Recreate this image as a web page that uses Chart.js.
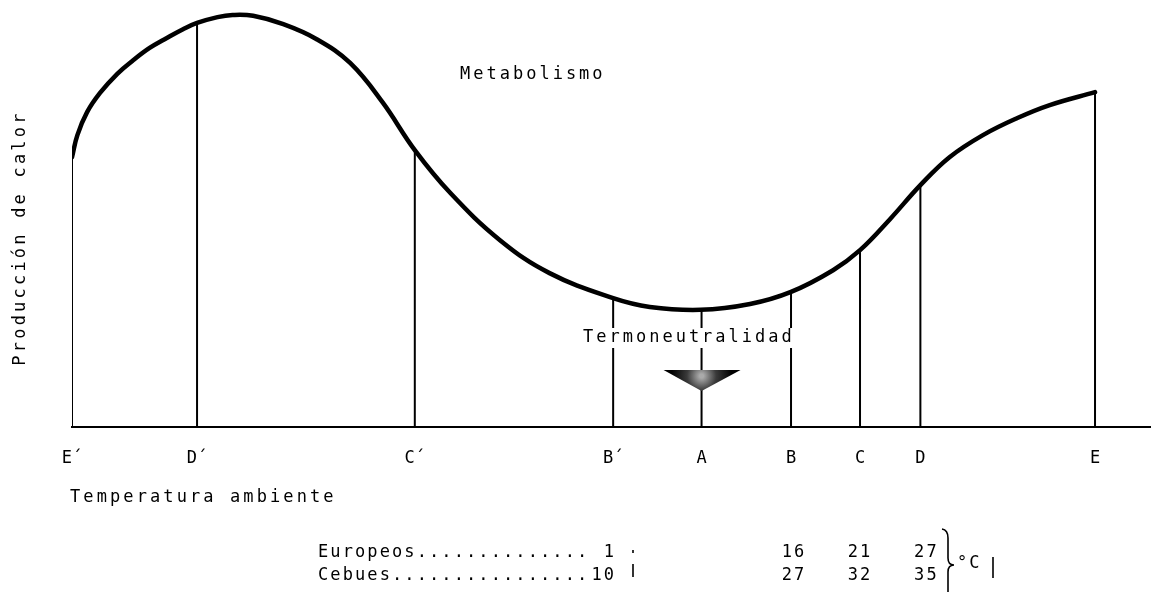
<!DOCTYPE html>
<html>
<head>
<meta charset="utf-8">
<script src="https://cdn.jsdelivr.net/npm/chart.js@4.4.1/dist/chart.umd.min.js"></script>
<style>
  body { margin: 0; background: #fff; }
</style>
</head>
<body>
<canvas id="metab" width="1152" height="592"></canvas>
<script>
// curve of heat production vs ambient temperature (arbitrary units 0-100)
var curveX = [0, 0.5, 1.4, 2.6, 4.2, 5.7, 7.2, 8.8, 10.3, 11.6, 13.5, 14.9, 16.8, 19.6, 22.7, 25.8, 28.8, 31.8, 35.1, 39.7, 44.3, 50.2, 53.6, 58.3, 62.9, 66.7, 70.6, 73.1, 75.9, 78.7, 81.4, 84.5, 87.7, 90.7, 94.9];
var curveY = [64.7, 70.0, 75.5, 80.1, 84.7, 88.0, 90.9, 93.3, 95.4, 96.9, 98.3, 98.8, 98.6, 96.6, 93.0, 87.3, 77.9, 66.4, 56.1, 44.8, 36.9, 30.9, 28.8, 28.1, 29.5, 32.4, 37.6, 42.4, 49.9, 58.0, 64.7, 70.0, 74.1, 77.2, 80.3];

// marked temperatures
var markerLabels = ["E´", "D´", "C´", "B´", "A", "B", "C", "D", "E"];
var markerX = [0, 11.6, 31.8, 50.2, 58.4, 66.7, 73.1, 78.7, 94.9];
var markerTop = [64.7, 96.9, 66.4, 30.9, 28.1, 32.4, 42.4, 58.0, 80.3];

// table under the chart (°C at B´, B, C, D)
var groups = ["Europeos", "Cebues"];
var groupDots = [14, 16];
var tempBp = [1, 10];
var tempB = [16, 27];
var tempC = [21, 32];
var tempD = [27, 35];

var curvePts = curveX.map(function (x, i) { return { x: x, y: curveY[i] }; });
var linePts = [];
markerX.forEach(function (x, i) {
  linePts.push({ x: x, y: 0 }, { x: x, y: markerTop[i] }, { x: x, y: null });
});

var FONT = '17px "DejaVu Sans Mono"';

var annot = {
  id: 'annot',
  afterDatasetsDraw: function (chart) {
    var c = chart.ctx;
    var xs = chart.scales.x;
    var ax = xs.getPixelForValue(markerX[4]);
    c.save();
    c.fillStyle = '#000';
    c.strokeStyle = '#000';
    c.font = FONT;
    c.textBaseline = 'middle';
    c.textAlign = 'left';

    c.letterSpacing = '3px';
    c.fillText('Metabolismo', 460, 75);

    // white box behind the label cuts the vertical lines
    c.fillStyle = '#fff';
    c.fillRect(580, 328, 218, 20);
    c.fillStyle = '#000';
    c.fillText('Termoneutralidad', 583, 338);

    // triangle marker under A
    var g = c.createRadialGradient(ax, 376, 2, ax, 376, 30);
    g.addColorStop(0, '#aaa');
    g.addColorStop(0.45, '#3a3a3a');
    g.addColorStop(1, '#000');
    c.fillStyle = g;
    c.beginPath();
    c.moveTo(ax - 38, 370);
    c.lineTo(ax + 39, 370);
    c.lineTo(ax, 391);
    c.closePath();
    c.fill();
    c.fillStyle = '#000';

    c.letterSpacing = '3.1px';
    c.fillText('Temperatura ambiente', 70, 498);

    c.save();
    c.translate(21, 238);
    c.rotate(-Math.PI / 2);
    c.textAlign = 'center';
    c.letterSpacing = '3.2px';
    c.fillText('Producción de calor', 0, 0);
    c.restore();

    // table
    var rowsY = [553, 576];
    c.letterSpacing = '2.1px';
    groups.forEach(function (name, i) {
      var y = rowsY[i];
      c.textAlign = 'left';
      c.fillText(name + '.'.repeat(groupDots[i]), 318, y);
      c.textAlign = 'right';
      c.fillText(String(tempBp[i]), xs.getPixelForValue(markerX[3]) + 3, y);
      c.textAlign = 'center';
      c.fillText(String(tempB[i]), xs.getPixelForValue(markerX[5]) + 3, y);
      c.fillText(String(tempC[i]), xs.getPixelForValue(markerX[6]), y);
      c.fillText(String(tempD[i]), xs.getPixelForValue(markerX[7]) + 6, y);
    });
    c.textAlign = 'left';
    c.fillText('°C', 957, 564);

    // brace and marks
    c.lineWidth = 1.6;
    var bx = 948, top = 529, mid = 565, bot = 592;
    c.beginPath();
    c.moveTo(bx - 6, top);
    c.quadraticCurveTo(bx, top + 1, bx, top + 9);
    c.lineTo(bx, mid - 7);
    c.quadraticCurveTo(bx, mid, bx + 6, mid);
    c.quadraticCurveTo(bx, mid, bx, mid + 7);
    c.lineTo(bx, bot);
    c.stroke();
    c.beginPath();
    c.moveTo(993, 557); c.lineTo(993, 578);
    c.moveTo(633, 564); c.lineTo(633, 577);
    c.moveTo(633, 550); c.lineTo(633, 553);
    c.stroke();
    c.restore();
  }
};

new Chart(document.getElementById('metab'), {
  type: 'line',
  data: {
    datasets: [
      {
        data: curvePts,
        borderColor: '#000',
        borderWidth: 4.5,
        pointRadius: 0,
        tension: 0.4,
        borderCapStyle: 'round',
        order: 0
      },
      {
        data: linePts,
        borderColor: '#000',
        borderWidth: 2,
        pointRadius: 0,
        tension: 0,
        spanGaps: false,
        order: 1
      }
    ]
  },
  options: {
    responsive: false,
    animation: false,
    layout: { padding: { left: 72, right: 2, top: 10, bottom: 0 } },
    plugins: { legend: { display: false }, tooltip: { enabled: false } },
    scales: {
      x: {
        type: 'linear',
        min: 0,
        max: 100,
        grid: { display: false, drawTicks: false },
        border: { display: true, color: '#000', width: 2 },
        afterBuildTicks: function (scale) {
          scale.ticks = markerX.map(function (v) { return { value: v }; });
        },
        afterFit: function (scale) { scale.height = 592 - 427; },
        ticks: {
          autoSkip: false,
          maxRotation: 0,
          padding: 21,
          color: '#000',
          font: { family: 'DejaVu Sans Mono', size: 17 },
          callback: function (v, i) { return markerLabels[i]; }
        }
      },
      y: { display: false, min: 0, max: 100 }
    }
  },
  plugins: [annot]
});
</script>
</body>
</html>
